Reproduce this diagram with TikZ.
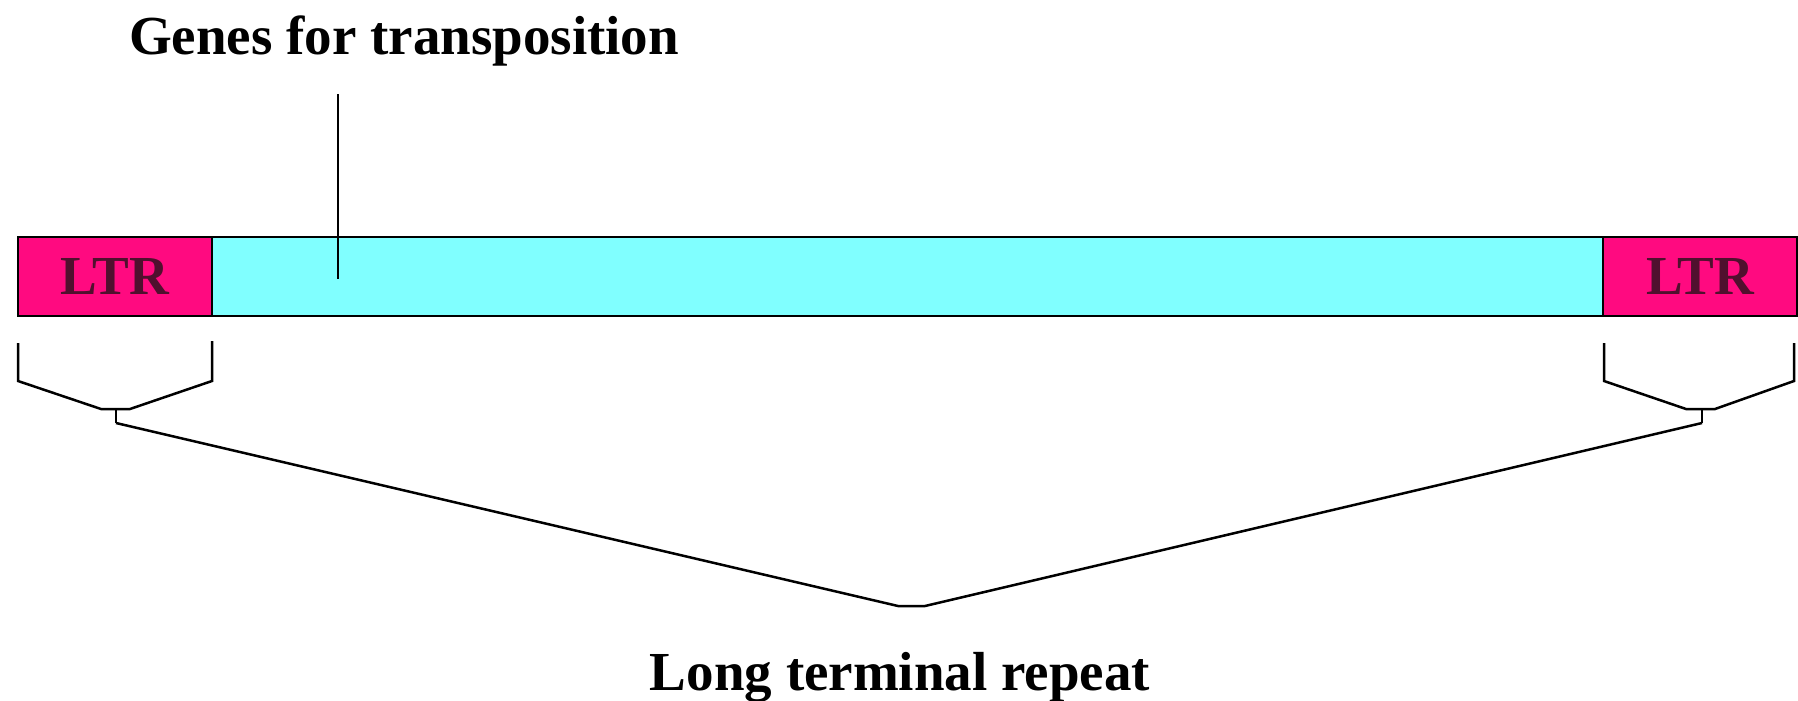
\documentclass[tikz,border=0pt]{standalone}
\usepackage{fontspec}
\setmainfont{Liberation Serif}
\definecolor{ltrpink}{HTML}{FF0A80}
\definecolor{genecyan}{HTML}{80FFFF}
\definecolor{ltrtext}{HTML}{50102E}
\begin{document}
\begin{tikzpicture}[x=1pt,y=-1pt,
  seg/.style={draw=black,line width=2.5pt},
  ltrbox/.style={seg,fill=ltrpink,outer sep=0pt,inner sep=0pt,anchor=north west,
     minimum height=79pt,text=ltrtext,font=\fontsize{55}{66}\selectfont\bfseries},
  genebox/.style={seg,fill=genecyan,outer sep=0pt,inner sep=0pt,anchor=north west,minimum height=79pt},
  lbl/.style={font=\fontsize{55}{66}\selectfont\bfseries,inner sep=0pt,anchor=base},
  brace/.style={draw=black,line width=2.5pt,line join=miter}]
\useasboundingbox (0,0) rectangle (1798,701);
\fill[white] (0,0) rectangle (1798,701);
% bar
\node[genebox,minimum width=1391pt] (genes) at (212,237) {};
\node[ltrbox,minimum width=194pt] (ltrL) at (18,237) {LTR};
\node[ltrbox,minimum width=194pt] (ltrR) at (1603,237) {LTR};
% labels
\node[lbl] (title) at (404,55) {Genes for transposition};
\node[lbl] (bottom) at (900,690) {Long terminal repeat};
% pointer
\coordinate (stemtop) at (338,94);
\coordinate (stemend) at (338,279);
\draw[seg] (stemtop) -- (stemend);
% small braces
\coordinate (lA) at (18,343);
\coordinate (lB) at (18,381);
\coordinate (lC) at (101,409);
\coordinate (lD) at (130,409);
\coordinate (lE) at (212,381);
\coordinate (lF) at (212,341);
\coordinate (lTip) at (116,409);
\coordinate (lStem) at (116,423);
\coordinate (rA) at (1604,343);
\coordinate (rB) at (1604,381);
\coordinate (rC) at (1686,409);
\coordinate (rD) at (1715,409);
\coordinate (rE) at (1794,381);
\coordinate (rF) at (1794,343);
\coordinate (rTip) at (1702,409);
\coordinate (rStem) at (1702,423);
\coordinate (mL) at (898,606);
\coordinate (mR) at (925,606);
\draw[brace] (lA) -- (lB) -- (lC) -- (lD) -- (lE) -- (lF);
\draw[brace] (lTip) -- (lStem);
\draw[brace] (rA) -- (rB) -- (rC) -- (rD) -- (rE) -- (rF);
\draw[brace] (rTip) -- (rStem);
\draw[brace] (lStem) -- (mL) -- (mR) -- (rStem);
\end{tikzpicture}
\end{document}
